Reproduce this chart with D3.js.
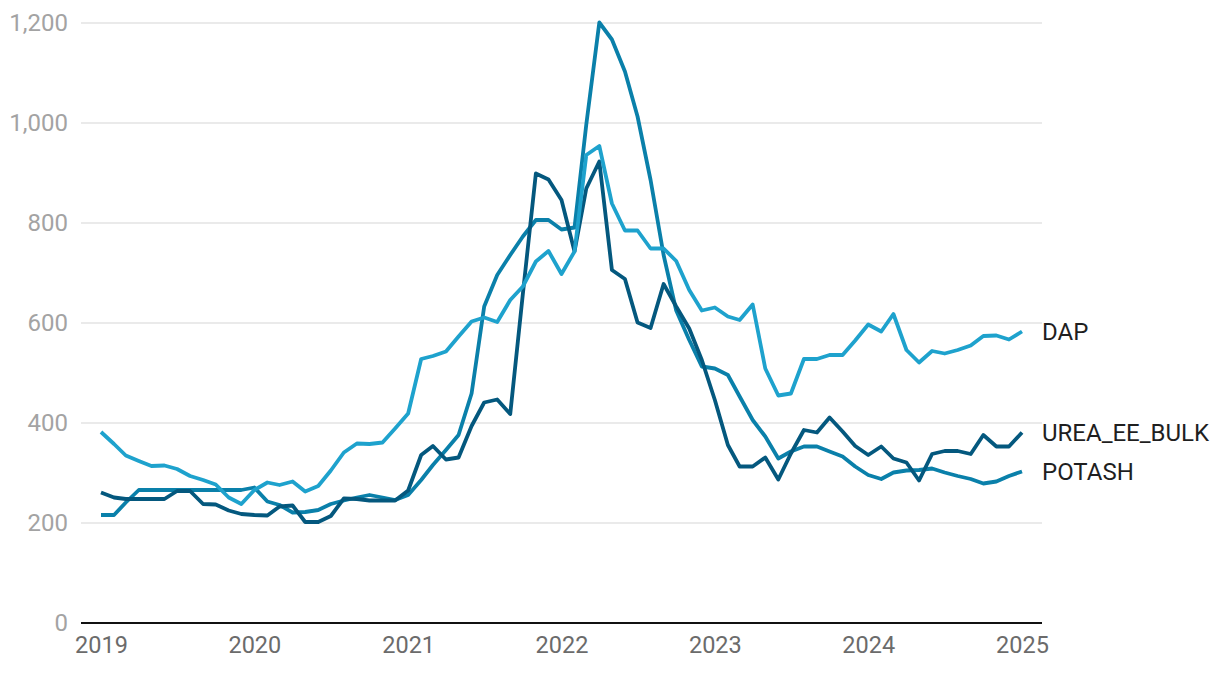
<!DOCTYPE html>
<html>
<head>
<meta charset="utf-8">
<script src="https://cdn.jsdelivr.net/npm/d3@7"></script>
<style>
  body { margin: 0; background: #fff; }
  svg { display: block; font-family: Roboto, "Noto Sans", sans-serif; }
</style>
</head>
<body>
<svg id="chart" width="1220" height="674"></svg>
<script>
const startYear = 2019;
const yearTicks = [2019, 2020, 2021, 2022, 2023, 2024, 2025];
const yTicks = [0, 200, 400, 600, 800, 1000, 1200];

const dap = [382,358,335,324,314,315,308,294,286,277,251,238,
  266,281,276,283,263,274,305,341,359,358,361,389,
  419,528,534,543,573,603,611,602,646,673,723,744,
  698,743,936,954,839,785,785,749,749,724,666,625,
  631,613,606,637,509,455,459,528,528,536,536,565,
  597,583,618,546,521,544,539,546,555,574,575,567,583];

const potash = [216,216,241,266,266,266,266,266,266,266,266,266,
  271,243,236,221,222,226,238,245,251,256,251,246,
  256,286,316,346,376,459,633,696,736,773,806,806,
  787,791,997,1201,1167,1103,1013,886,736,625,566,513,
  509,496,453,406,373,329,343,353,353,343,333,313,
  296,288,301,305,306,309,301,294,288,279,283,294,303];

const urea = [261,251,248,248,248,248,264,264,238,237,225,218,
  216,215,233,235,202,202,214,249,248,245,245,245,
  265,336,354,327,331,394,441,447,418,658,899,887,
  846,743,869,923,706,688,601,590,678,633,589,526,
  446,356,313,313,331,287,339,386,381,411,383,354,
  336,353,329,321,285,338,344,344,338,376,353,353,381];

const seriesNames = ["DAP", "UREA_EE_BULK", "POTASH"];
const seriesColors = ["#1ea2cd", "#04587e", "#0a80aa"];
const seriesData = [dap, urea, potash];

const svg = d3.select("#chart");
const plotLeft = 81, plotRight = 1042, plotTop = 23, plotBottom = 623;
const pad = 20;

const dateOf = i => new Date(startYear, i, 1);
const x = d3.scaleTime()
  .domain([new Date(2019, 0, 1), new Date(2025, 0, 1)])
  .range([plotLeft + pad, plotRight - pad]);
const y = d3.scaleLinear().domain([0, 1200]).range([plotBottom, plotTop]);

// gridlines
svg.append("g")
  .selectAll("line")
  .data(yTicks.filter(t => t > 0))
  .join("line")
  .attr("x1", plotLeft).attr("x2", plotRight)
  .attr("y1", d => y(d)).attr("y2", d => y(d))
  .attr("stroke", "#e3e3e3").attr("stroke-width", 1.5);

// y axis labels
const yAxis = d3.axisLeft(y).tickValues(yTicks).tickSize(0).tickPadding(13)
  .tickFormat(d3.format(","));
const gy = svg.append("g").attr("transform", `translate(${plotLeft},0)`).call(yAxis);
gy.select(".domain").remove();
gy.selectAll("text").attr("fill", "#a3a3a3").style("font-size", "24px")
  .attr("font-family", "Roboto, sans-serif");

// x axis
const xAxis = d3.axisBottom(x)
  .tickValues(yearTicks.map(yv => new Date(yv, 0, 1)))
  .tickSize(0).tickPadding(13)
  .tickFormat(d3.timeFormat("%Y"));
const gx = svg.append("g").attr("transform", `translate(0,${plotBottom})`).call(xAxis);
gx.select(".domain").remove();
gx.selectAll("text").attr("fill", "#6b6b6b").style("font-size", "23.5px")
  .attr("font-family", "Roboto, sans-serif");

svg.append("line")
  .attr("x1", plotLeft).attr("x2", plotRight)
  .attr("y1", y(0)).attr("y2", y(0))
  .attr("stroke", "#111").attr("stroke-width", 2);

// lines
const line = d3.line().x((d, i) => x(dateOf(i))).y(d => y(d));
const order = [2, 1, 0];
order.forEach(k => {
  svg.append("path")
    .datum(seriesData[k])
    .attr("fill", "none")
    .attr("stroke", seriesColors[k])
    .attr("stroke-width", 3.8)
    .attr("stroke-linejoin", "round")
    .attr("d", line);
});

// labels
seriesNames.forEach((name, k) => {
  const arr = seriesData[k];
  svg.append("text")
    .attr("x", plotRight)
    .attr("y", y(arr[arr.length - 1]))
    .attr("dy", "0.35em")
    .attr("fill", "#1f1f1f")
    .style("font-size", "24px")
    .text(name);
});
</script>
</body>
</html>
